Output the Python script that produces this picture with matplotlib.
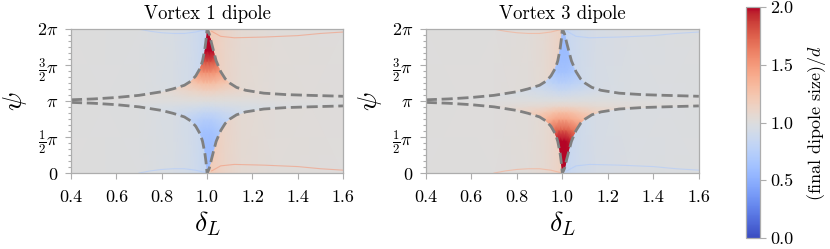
import numpy as np
import matplotlib
matplotlib.use("Agg")
import matplotlib.pyplot as plt
from matplotlib.patches import Polygon
from matplotlib.ticker import MultipleLocator, FixedLocator, FormatStrFormatter

plt.rcParams["font.family"] = "serif"
plt.rcParams["font.serif"] = ["cmr10", "DejaVu Serif"]
plt.rcParams["mathtext.fontset"] = "cm"
plt.rcParams["axes.formatter.use_mathtext"] = True

# ---------------- data ----------------
titles = ["Vortex 1 dipole", "Vortex 3 dipole"]

# field outside the dashed separatrices (value per delta column)
outer_delta = [0.40, 0.70, 0.85, 0.92, 0.96, 0.985, 0.999, 1.001, 1.015, 1.04, 1.08, 1.15, 1.30, 1.60]
outer_v1 = [1.00, 0.99, 0.96, 0.92, 0.88, 0.85, 0.84, 1.20, 1.19, 1.16, 1.11, 1.06, 1.03, 1.01]
outer_v3 = [1.00, 1.01, 1.03, 1.06, 1.10, 1.13, 1.15, 0.82, 0.83, 0.86, 0.90, 0.94, 0.97, 0.99]

# field inside the dashed separatrices (rows: psi bottom -> top, columns: delta)
inner_delta = [0.40, 0.70, 0.85, 0.92, 0.96, 0.985, 1.00, 1.015, 1.04, 1.08, 1.15, 1.30, 1.60]
inner_psi_pi = [0, 0.15, 0.3, 0.45, 0.6, 0.75, 0.85, 0.93, 1.0, 1.07, 1.15, 1.25, 1.4, 1.55, 1.7, 1.85, 2.0]

inner_v1 = [
    [0.98, 0.92, 0.82, 0.72, 0.64, 0.60, 0.60, 0.60, 0.63, 0.70, 0.80, 0.90, 0.96],
    [0.98, 0.92, 0.81, 0.71, 0.62, 0.58, 0.58, 0.58, 0.61, 0.69, 0.79, 0.90, 0.96],
    [0.98, 0.92, 0.81, 0.71, 0.62, 0.58, 0.58, 0.58, 0.61, 0.69, 0.79, 0.90, 0.96],
    [0.98, 0.92, 0.82, 0.72, 0.64, 0.60, 0.60, 0.60, 0.63, 0.70, 0.80, 0.90, 0.96],
    [0.98, 0.93, 0.84, 0.75, 0.68, 0.64, 0.64, 0.64, 0.67, 0.73, 0.82, 0.91, 0.96],
    [0.99, 0.95, 0.88, 0.81, 0.76, 0.73, 0.73, 0.73, 0.75, 0.80, 0.87, 0.93, 0.97],
    [0.99, 0.97, 0.92, 0.88, 0.85, 0.83, 0.83, 0.83, 0.84, 0.87, 0.92, 0.96, 0.98],
    [1.00, 0.98, 0.96, 0.94, 0.93, 0.92, 0.92, 0.92, 0.93, 0.94, 0.96, 0.98, 0.99],
    [1.00, 1.00, 1.00, 1.00, 1.00, 1.00, 1.00, 1.00, 1.00, 1.00, 1.00, 1.00, 1.00],
    [1.00, 1.01, 1.03, 1.05, 1.06, 1.07, 1.07, 1.07, 1.06, 1.05, 1.04, 1.02, 1.01],
    [1.01, 1.03, 1.07, 1.11, 1.14, 1.16, 1.16, 1.16, 1.15, 1.12, 1.08, 1.04, 1.02],
    [1.02, 1.06, 1.14, 1.21, 1.27, 1.30, 1.30, 1.30, 1.28, 1.23, 1.15, 1.08, 1.03],
    [1.03, 1.11, 1.25, 1.39, 1.50, 1.55, 1.55, 1.55, 1.51, 1.41, 1.28, 1.14, 1.06],
    [1.04, 1.16, 1.36, 1.56, 1.72, 1.80, 1.80, 1.80, 1.74, 1.60, 1.40, 1.20, 1.08],
    [1.05, 1.21, 1.47, 1.74, 1.95, 2.05, 2.05, 2.05, 1.97, 1.79, 1.53, 1.26, 1.11],
    [1.06, 1.25, 1.56, 1.88, 2.13, 2.25, 2.25, 2.25, 2.15, 1.94, 1.63, 1.31, 1.13],
    [1.06, 1.24, 1.54, 1.84, 2.08, 2.20, 2.20, 2.20, 2.10, 1.90, 1.60, 1.30, 1.12],
]

inner_v3 = [
    [1.06, 1.24, 1.54, 1.84, 2.08, 2.20, 2.20, 2.20, 2.10, 1.90, 1.60, 1.30, 1.12],
    [1.07, 1.26, 1.59, 1.91, 2.17, 2.30, 2.30, 2.30, 2.20, 1.98, 1.65, 1.33, 1.13],
    [1.06, 1.25, 1.56, 1.88, 2.13, 2.25, 2.25, 2.25, 2.15, 1.94, 1.63, 1.31, 1.13],
    [1.05, 1.20, 1.45, 1.70, 1.90, 2.00, 2.00, 2.00, 1.92, 1.75, 1.50, 1.25, 1.10],
    [1.04, 1.15, 1.34, 1.53, 1.68, 1.75, 1.75, 1.75, 1.69, 1.56, 1.38, 1.19, 1.08],
    [1.02, 1.09, 1.20, 1.32, 1.41, 1.45, 1.45, 1.45, 1.41, 1.34, 1.23, 1.11, 1.05],
    [1.01, 1.06, 1.13, 1.20, 1.25, 1.28, 1.28, 1.28, 1.26, 1.21, 1.14, 1.07, 1.03],
    [1.01, 1.02, 1.05, 1.07, 1.09, 1.10, 1.10, 1.10, 1.09, 1.08, 1.05, 1.03, 1.01],
    [1.00, 1.00, 1.00, 1.00, 1.00, 1.00, 1.00, 1.00, 1.00, 1.00, 1.00, 1.00, 1.00],
    [1.00, 0.99, 0.97, 0.95, 0.94, 0.93, 0.93, 0.93, 0.94, 0.95, 0.97, 0.98, 0.99],
    [0.99, 0.97, 0.93, 0.90, 0.87, 0.85, 0.85, 0.85, 0.86, 0.89, 0.93, 0.96, 0.99],
    [0.99, 0.95, 0.89, 0.83, 0.78, 0.75, 0.75, 0.75, 0.77, 0.81, 0.88, 0.94, 0.98],
    [0.98, 0.93, 0.84, 0.75, 0.68, 0.64, 0.64, 0.64, 0.67, 0.73, 0.82, 0.91, 0.96],
    [0.98, 0.92, 0.82, 0.72, 0.64, 0.60, 0.60, 0.60, 0.63, 0.70, 0.80, 0.90, 0.96],
    [0.98, 0.92, 0.81, 0.71, 0.62, 0.58, 0.58, 0.58, 0.61, 0.69, 0.79, 0.90, 0.96],
    [0.98, 0.92, 0.82, 0.72, 0.64, 0.60, 0.60, 0.60, 0.63, 0.70, 0.80, 0.90, 0.96],
    [0.98, 0.93, 0.84, 0.76, 0.69, 0.65, 0.65, 0.65, 0.68, 0.74, 0.83, 0.91, 0.97],
]

# dashed separatrix curves (psi in units of pi)
curve_delta = [0.40, 0.50, 0.60, 0.70, 0.80, 0.85, 0.90, 0.93, 0.95, 0.97, 0.98, 0.99, 0.995, 1.0,
               1.005, 1.01, 1.02, 1.03, 1.04, 1.06, 1.08, 1.10, 1.13, 1.17, 1.25, 1.35, 1.45, 1.6]
curve_upper = [1.018, 1.03, 1.05, 1.08, 1.13, 1.17, 1.22, 1.28, 1.35, 1.46, 1.56, 1.72, 1.84, 2.0,
               1.97, 1.93, 1.80, 1.68, 1.56, 1.41, 1.31, 1.25, 1.19, 1.15, 1.11, 1.09, 1.08, 1.067]
curve_lower = [0.982, 0.97, 0.95, 0.92, 0.87, 0.83, 0.78, 0.72, 0.65, 0.54, 0.44, 0.28, 0.16, 0.0,
               0.03, 0.07, 0.20, 0.32, 0.44, 0.59, 0.69, 0.75, 0.81, 0.85, 0.89, 0.91, 0.92, 0.933]

# thin edge arcs near psi = 0 (mirrored near psi = 2 pi); psi in units of pi
arc_left_delta = [0.70, 0.75, 0.80, 0.85, 0.90, 0.95, 1.00]
arc_left_psi = [0.0, 0.03, 0.05, 0.06, 0.06, 0.04, 0.0]
arc_left_psi_top = [2.0, 1.97, 1.95, 1.94, 1.94, 1.96, 2.0]
arc_right_delta = [1.02, 1.06, 1.12, 1.25, 1.40, 1.50, 1.60]
arc_right_psi = [0.03, 0.10, 0.12, 0.11, 0.09, 0.06, 0.04]
arc_right_psi_top = [1.97, 1.90, 1.88, 1.89, 1.91, 1.94, 1.96]
arc_value_left = [0.70, 1.40]   # vortex 1, vortex 3
arc_value_right = [1.50, 0.70]

x_ticks = [0.4, 0.6, 0.8, 1.0, 1.2, 1.4, 1.6]
y_ticks_pi = [0, 0.5, 1, 1.5, 2]
y_ticklabels = [r"$0$", r"$\frac{1}{2}\pi$", r"$\pi$", r"$\frac{3}{2}\pi$", r"$2\pi$"]
cbar_ticks = [0.0, 0.5, 1.0, 1.5, 2.0]

# ---------------- figure ----------------
fig = plt.figure(figsize=(8.3, 2.49), dpi=100)
ax1 = fig.add_axes([0.0855, 0.305, 0.328, 0.578])
ax2 = fig.add_axes([0.513, 0.305, 0.329, 0.578])
cax = fig.add_axes([0.899, 0.044, 0.0169, 0.928])

spine_c = "0.68"
cmap = plt.get_cmap("coolwarm")
norm = dict(cmap=cmap, vmin=0, vmax=2, shading="gouraud")
OD, OP = np.meshgrid(np.array(outer_delta), np.array([0.0, 2.0]) * np.pi)
ID, IP = np.meshgrid(np.array(inner_delta), np.array(inner_psi_pi) * np.pi)
poly_x = curve_delta + curve_delta[::-1]
poly_y = (np.array(curve_upper + curve_lower[::-1])) * np.pi

mesh = None
for k, (ax, outer, inner, title) in enumerate(zip([ax1, ax2], [outer_v1, outer_v3],
                                                  [inner_v1, inner_v3], titles)):
    mesh = ax.pcolormesh(OD, OP, np.vstack([outer, outer]), **norm)
    inner_mesh = ax.pcolormesh(ID, IP, np.array(inner), **norm)
    patch = Polygon(np.column_stack([poly_x, poly_y]), closed=True,
                    facecolor="none", edgecolor="none", transform=ax.transData)
    ax.add_patch(patch)
    inner_mesh.set_clip_path(patch)
    cl = cmap(arc_value_left[k] / 2.0)
    cr = cmap(arc_value_right[k] / 2.0)
    for ys in (arc_left_psi, arc_left_psi_top):
        ax.plot(arc_left_delta, np.array(ys) * np.pi, color=cl, lw=0.8, alpha=0.6)
    for ys in (arc_right_psi, arc_right_psi_top):
        ax.plot(arc_right_delta, np.array(ys) * np.pi, color=cr, lw=0.8, alpha=0.6)
    for yc in (curve_upper, curve_lower):
        ax.plot(curve_delta, np.array(yc) * np.pi, color="0.5", lw=2.0,
                ls=(0, (4.0, 1.7)))
    ax.set_xlim(0.4, 1.6)
    ax.set_ylim(0, 2 * np.pi)
    ax.xaxis.set_major_locator(FixedLocator(x_ticks))
    ax.xaxis.set_major_formatter(FormatStrFormatter("%.1f"))
    ax.yaxis.set_major_locator(FixedLocator(np.array(y_ticks_pi) * np.pi))
    ax.set_yticklabels(y_ticklabels)
    ax.yaxis.set_minor_locator(MultipleLocator(np.pi / 12))
    ax.tick_params(which="both", color=spine_c, labelcolor="black", width=0.8,
                   labelsize=13, direction="out")
    ax.tick_params(which="major", length=4)
    ax.tick_params(which="minor", length=2.5)
    ax.tick_params(axis="x", pad=8)
    ax.tick_params(axis="y", pad=5)
    for s in ax.spines.values():
        s.set_color(spine_c)
        s.set_linewidth(0.9)
    ax.set_title(title, fontsize=13.5, pad=7)
    ax.set_xlabel(r"$\delta_L$", fontsize=20, labelpad=3)
    ax.set_ylabel(r"$\psi$", fontsize=20, labelpad=6)

cb = fig.colorbar(mesh, cax=cax, ticks=cbar_ticks)
cb.ax.yaxis.set_major_formatter(FormatStrFormatter("%.1f"))
cb.outline.set_edgecolor(spine_c)
cb.outline.set_linewidth(0.9)
cb.ax.tick_params(color=spine_c, labelcolor="black", labelsize=13, length=4, width=0.8)
cb.set_label(r"(final dipole size)$/d$", fontsize=13, labelpad=8)

fig.savefig("out.png", dpi=100)
